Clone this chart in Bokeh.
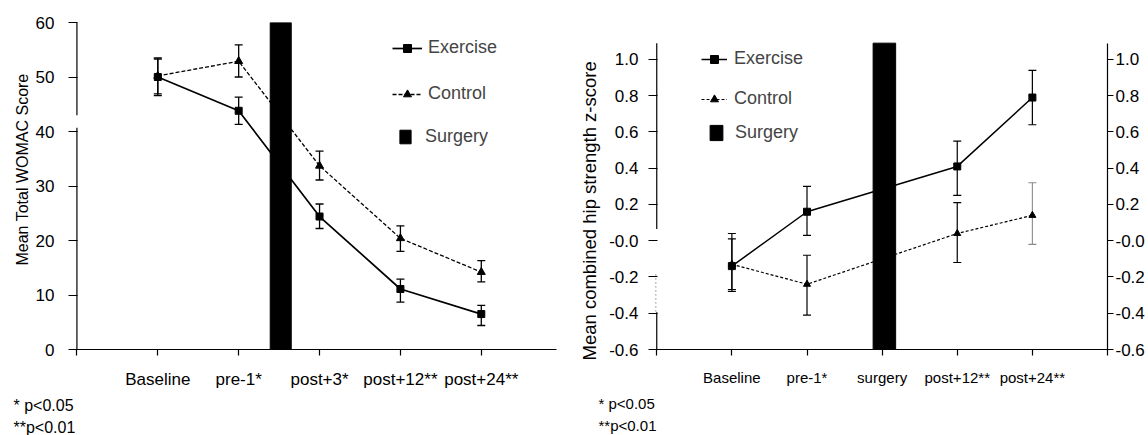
from bokeh.plotting import figure
from bokeh.layouts import row, column
from bokeh.models import (ColumnDataSource, Whisker, TeeHead, FixedTicker, Legend,
                          LegendItem, LinearAxis, Title)
from bokeh.core.properties import value
from bokeh.embed import file_html
from bokeh.resources import INLINE

FONT = "Liberation Sans"

# ---------------- WOMAC panel ----------------
womac_labels = ["Baseline", "pre-1*", "post+3*", "post+12**", "post+24**"]
womac_exercise = [50.0, 43.8, 24.4, 11.1, 6.5]
womac_exercise_lo = [46.6, 41.3, 22.2, 8.7, 4.4]
womac_exercise_hi = [53.3, 46.3, 26.7, 12.9, 8.1]
womac_control = [50.2, 52.9, 33.7, 20.4, 14.2]
womac_control_lo = [46.9, 50.0, 31.1, 18.0, 12.4]
womac_control_hi = [53.5, 55.9, 36.4, 22.7, 16.3]
womac_yticks = [0, 10, 20, 30, 40, 50, 60]
womac_surgery_pos = 2.52      # between pre-1 and post+3
womac_surgery_width = 0.26

# ---------------- hip strength panel ----------------
hip_labels = ["Baseline", "pre-1*", "surgery", "post+12**", "post+24**"]
hip_measured = ["Baseline", "pre-1*", "post+12**", "post+24**"]
hip_exercise = [-0.14, 0.16, 0.41, 0.79]
hip_exercise_lo = [-0.28, 0.03, 0.25, 0.64]
hip_exercise_hi = [0.04, 0.30, 0.55, 0.94]
hip_control = [-0.13, -0.24, 0.04, 0.14]
hip_control_lo = [-0.27, -0.41, -0.12, -0.02]
hip_control_hi = [0.01, -0.08, 0.21, 0.32]
hip_yticks = [-0.6, -0.4, -0.2, 0.0, 0.2, 0.4, 0.6, 0.8, 1.0]
hip_ytick_labels = ["-0.6", "-0.4", "-0.2", "-0.0", "0.2", "0.4", "0.6", "0.8", "1.0"]
hip_axis_top = 1.09
hip_surgery_label = "surgery"
hip_surgery_width = 0.30

footnotes = ["* p<0.05", "**p<0.01"]


def style_axes(p, tick_size):
    p.outline_line_color = None
    p.xgrid.visible = False
    p.ygrid.visible = False
    for ax in p.axis:
        ax.axis_line_color = "black"
        ax.axis_line_width = 1.2
        ax.major_tick_line_color = "black"
        ax.major_tick_line_width = 1.2
        ax.major_tick_in = 0
        ax.minor_tick_line_color = None
        ax.major_label_text_font = FONT
        ax.major_label_text_color = "black"
    for ax in p.yaxis:
        ax.major_label_text_font_size = tick_size


def side_title(p, text, size, offset, standoff):
    # vertical value-axis title, anchored from the bottom of the plot area
    t = Title(text=text, align="left", offset=offset, standoff=standoff,
              text_font=FONT, text_font_size=size, text_font_style="normal",
              text_color="black")
    p.add_layout(t, "left")


def add_errorbars(p, xs, lo, hi, width=1.3, color="black"):
    src = ColumnDataSource(dict(x=xs, lo=lo, hi=hi))
    w = Whisker(source=src, base="x", lower="lo", upper="hi",
                line_color=color, line_width=width,
                upper_head=TeeHead(size=8, line_color=color, line_width=width),
                lower_head=TeeHead(size=8, line_color=color, line_width=width))
    p.add_layout(w)


def footer(width, xs, ys, size):
    # strip under a chart that carries the significance notes
    f = figure(width=width, height=41, x_range=(0, width), y_range=(41, 0),
               output_backend="svg", toolbar_location=None, title=None,
               min_border=0, outline_line_color=None)
    f.axis.visible = False
    f.grid.visible = False
    f.text(x=xs, y=ys, text=footnotes, text_font=value(FONT), text_font_size=size,
           text_baseline="middle", text_color="black")
    return f


# ===== left chart: WOMAC =====
x1 = list(range(1, len(womac_labels) + 1))
p1 = figure(width=563, height=394, x_range=(-0.03, 5.93), y_range=(0, 60),
            output_backend="svg", toolbar_location=None, title=None,
            min_border_left=74, min_border_right=7,
            min_border_top=22, min_border_bottom=45)
style_axes(p1, "17px")
side_title(p1, "Mean Total WOMAC Score", "16px", 84, 4)
p1.xaxis.ticker = FixedTicker(ticks=[0] + x1)
p1.xaxis.major_label_overrides = {0: "", **{x: lab for x, lab in zip(x1, womac_labels)}}
p1.xaxis.major_label_text_font_size = "17px"
p1.xaxis.major_tick_out = 6
p1.xaxis.major_label_standoff = 14
p1.yaxis.ticker = FixedTicker(ticks=womac_yticks)
p1.yaxis.major_tick_out = 6
p1.yaxis.major_tick_in = 3
p1.yaxis.major_label_standoff = 14
p1.yaxis.axis_line_color = None

# value axis line drawn with a break between 40 and 50
p1.segment(x0=[0, 0], y0=[0, 43.0], x1=[0, 0], y1=[40.7, 60], line_color="black",
           line_width=1.2)

add_errorbars(p1, x1, womac_exercise_lo, womac_exercise_hi)
add_errorbars(p1, x1, womac_control_lo, womac_control_hi)

ct_line = p1.line(x1, womac_control, line_color="black", line_width=1.3, line_dash="4 2")
ct_pts = p1.scatter(x1, womac_control, marker="triangle", size=8, color="black")
ex_line = p1.line(x1, womac_exercise, line_color="black", line_width=1.7)
ex_pts = p1.scatter(x1, womac_exercise, marker="square", size=7, color="black")
surg1 = p1.vbar(x=[womac_surgery_pos], width=womac_surgery_width, top=60, bottom=0,
                fill_color="black", line_color="black")

leg1 = Legend(items=[LegendItem(label="Exercise", renderers=[ex_line, ex_pts]),
                     LegendItem(label="Control", renderers=[ct_line, ct_pts])],
              location=(318, 245), glyph_width=30, glyph_height=20, label_height=20,
              spacing=25, padding=0, margin=0, border_line_color=None,
              background_fill_alpha=0, label_standoff=6,
              label_text_font=FONT, label_text_font_size="18px")
leg1b = Legend(items=[LegendItem(label="Surgery", renderers=[surg1])],
               location=(324, 202), glyph_width=14, glyph_height=17, label_height=17,
               padding=0, margin=0, border_line_color=None, background_fill_alpha=0,
               label_standoff=13, label_text_font=FONT, label_text_font_size="18px")
p1.add_layout(leg1)
p1.add_layout(leg1b)

# ===== right chart: hip strength =====
x2_all = list(range(1, len(hip_labels) + 1))
x2 = [hip_labels.index(lab) + 1 for lab in hip_measured]
surgery_x = hip_labels.index(hip_surgery_label) + 1
p2 = figure(width=585, height=394, x_range=(-0.03, 6), y_range=(-0.6, 1.204),
            output_backend="svg", toolbar_location=None, title=None,
            min_border_left=91, min_border_right=41,
            min_border_top=22, min_border_bottom=45)
right_ax = LinearAxis()
p2.add_layout(right_ax, "right")
style_axes(p2, "17px")
side_title(p2, "Mean combined hip strength z-score", "18.5px", -11, 14)
ylab_map = {t: s for t, s in zip(hip_yticks, hip_ytick_labels)}
for ax in p2.yaxis:
    ax.ticker = FixedTicker(ticks=hip_yticks)
    ax.major_label_overrides = ylab_map
    ax.major_tick_out = 6
left_ax = p2.yaxis[0]
left_ax.major_label_standoff = 10
left_ax.axis_line_color = None
left_ax.major_tick_in = 3
right_ax.major_label_standoff = 2
right_ax.bounds = (hip_yticks[0], hip_axis_top)
p2.xaxis.ticker = FixedTicker(ticks=[0] + x2_all + [6])
p2.xaxis.major_label_overrides = {0: "", 6: "", **{x: lab for x, lab in zip(x2_all, hip_labels)}}
p2.xaxis.major_label_text_font_size = "15px"
p2.xaxis.major_tick_out = 6
p2.xaxis.major_label_standoff = 13

# left value axis with a break between about 0.06 and -0.40
p2.segment(x0=[0, 0], y0=[-0.6, 0.065], x1=[0, 0], y1=[-0.395, hip_axis_top],
           line_color="black", line_width=1.2)
p2.segment(x0=[-0.012], y0=[-0.39], x1=[-0.012], y1=[-0.17], line_color="#555555",
           line_width=1, line_dash="1 3")

add_errorbars(p2, x2, hip_exercise_lo, hip_exercise_hi, width=1.2)
add_errorbars(p2, x2[:-1], hip_control_lo[:-1], hip_control_hi[:-1], width=1.2)
add_errorbars(p2, x2[-1:], hip_control_lo[-1:], hip_control_hi[-1:], width=1.1,
              color="#8a8a8a")

hc_line = p2.line(x2, hip_control, line_color="black", line_width=1.2, line_dash="3 2")
hc_pts = p2.scatter(x2, hip_control, marker="triangle", size=7, color="black")
he_line = p2.line(x2, hip_exercise, line_color="black", line_width=1.5)
he_pts = p2.scatter(x2, hip_exercise, marker="square", size=7, color="black")
surg2 = p2.vbar(x=[surgery_x + 0.03], width=hip_surgery_width, top=hip_axis_top,
                bottom=-0.6, fill_color="black", line_color="black")

leg2 = Legend(items=[LegendItem(label="Exercise", renderers=[he_line, he_pts]),
                     LegendItem(label="Control", renderers=[hc_line, hc_pts])],
              location=(47, 240), glyph_width=26, glyph_height=20, label_height=20,
              spacing=19, padding=0, margin=0, border_line_color=None,
              background_fill_alpha=0, label_standoff=7,
              label_text_font=FONT, label_text_font_size="18px")
leg2b = Legend(items=[LegendItem(label="Surgery", renderers=[surg2])],
               location=(54, 206), glyph_width=16, glyph_height=19, label_height=19,
               padding=0, margin=0, border_line_color=None, background_fill_alpha=0,
               label_standoff=11, label_text_font=FONT, label_text_font_size="18px")
p2.add_layout(leg2)
p2.add_layout(leg2b)

f1 = footer(563, [13, 13], [11, 33], "16px")
f2 = footer(585, [35, 35], [9, 31], "15px")

layout = column(row(p1, p2, spacing=0), row(f1, f2, spacing=0), spacing=0)
open("out.html", "w").write(file_html(layout, INLINE))
